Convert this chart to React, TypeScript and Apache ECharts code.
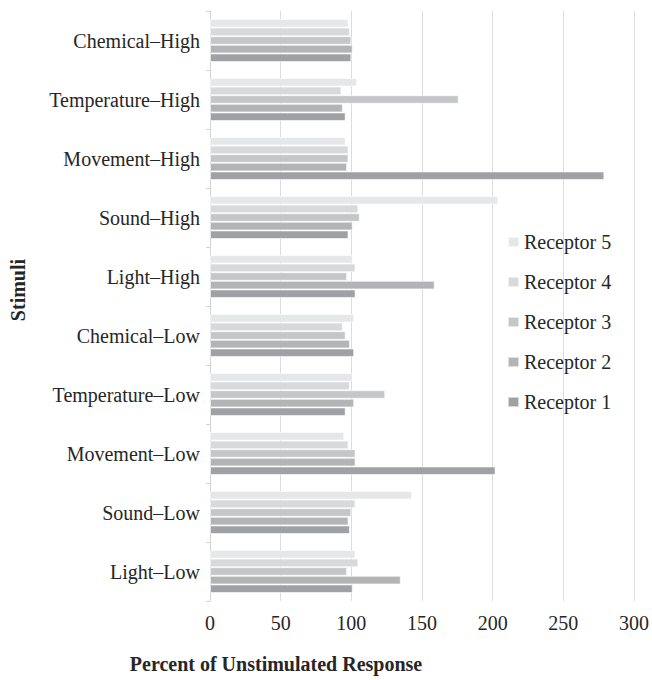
import React, { useEffect, useRef } from "react";
import * as echarts from "echarts";

const categories = [
  "Light–Low",
  "Sound–Low",
  "Movement–Low",
  "Temperature–Low",
  "Chemical–Low",
  "Light–High",
  "Sound–High",
  "Movement–High",
  "Temperature–High",
  "Chemical–High",
];

const seriesNames = ["Receptor 1", "Receptor 2", "Receptor 3", "Receptor 4", "Receptor 5"];

const receptor1 = [101, 99, 202, 96, 102, 103, 98, 279, 96, 100];
const receptor2 = [135, 98, 103, 102, 99, 159, 101, 97, 94, 101];
const receptor3 = [97, 100, 103, 124, 96, 97, 106, 98, 176, 100];
const receptor4 = [105, 103, 98, 99, 94, 103, 105, 98, 93, 99];
const receptor5 = [103, 143, 95, 101, 102, 101, 204, 96, 104, 98];

const xTicks = [0, 50, 100, 150, 200, 250, 300];

const colors = ["#a0a1a4", "#b3b4b6", "#c5c6c7", "#d8d9da", "#e6e7e8"];

const FONT = "Liberation Serif, Times New Roman, serif";

export default function App() {
  const ref = useRef<HTMLDivElement>(null);
  useEffect(() => {
    if (!ref.current) return;
    const chart = echarts.init(ref.current, undefined, { renderer: "svg" });
    const data = [receptor1, receptor2, receptor3, receptor4, receptor5];
    // ECharts places the first series at the top of each horizontal band,
    // so series are added from Receptor 5 down to Receptor 1.
    const order = [4, 3, 2, 1, 0];
    chart.setOption({
      animation: false,
      textStyle: { fontFamily: FONT },
      grid: { left: 210, right: 15, top: 11, bottom: 79, containLabel: false },
      legend: {
        orient: "vertical",
        left: 502,
        top: 227,
        itemWidth: 11,
        itemHeight: 10,
        itemGap: 20,
        icon: "rect",
        data: [...seriesNames].reverse(),
        textStyle: { fontFamily: FONT, fontSize: 20, color: "#262626" },
      },
      xAxis: {
        type: "value",
        min: xTicks[0],
        max: xTicks[xTicks.length - 1],
        interval: 50,
        axisLine: { show: false },
        axisTick: { show: false },
        splitLine: { show: true, lineStyle: { color: "#dcdcdc", width: 1 } },
        axisLabel: { fontFamily: FONT, fontSize: 20, color: "#262626", margin: 12 },
      },
      yAxis: {
        type: "category",
        data: categories,
        axisLine: { show: true, lineStyle: { color: "#d4d4d4", width: 1 } },
        axisTick: { show: true, length: 4, lineStyle: { color: "#d4d4d4" } },
        axisLabel: { fontFamily: FONT, fontSize: 20, color: "#262626", margin: 10 },
      },
      graphic: [
        {
          type: "text",
          x: 18,
          y: 290,
          rotation: Math.PI / 2,
          style: {
            text: "Stimuli",
            font: "bold 20px " + FONT,
            fill: "#262626",
            align: "center",
            verticalAlign: "middle",
          },
        },
        {
          type: "text",
          x: 276,
          y: 664,
          style: {
            text: "Percent of Unstimulated Response",
            font: "bold 20px " + FONT,
            fill: "#262626",
            align: "center",
            verticalAlign: "middle",
          },
        },
      ],
      series: order.map((i) => ({
        name: seriesNames[i],
        type: "bar",
        data: data[i],
        barGap: "0%",
        barCategoryGap: "27%",
        itemStyle: {
          color: colors[i],
          borderColor: "rgba(255,255,255,0.6)",
          borderWidth: 1,
        },
      })),
    });
    return () => chart.dispose();
  }, []);
  return (
    <div
      ref={ref}
      style={{ position: "absolute", left: 0, top: 0, width: 652, height: 680, overflow: "visible" }}
    />
  );
}
